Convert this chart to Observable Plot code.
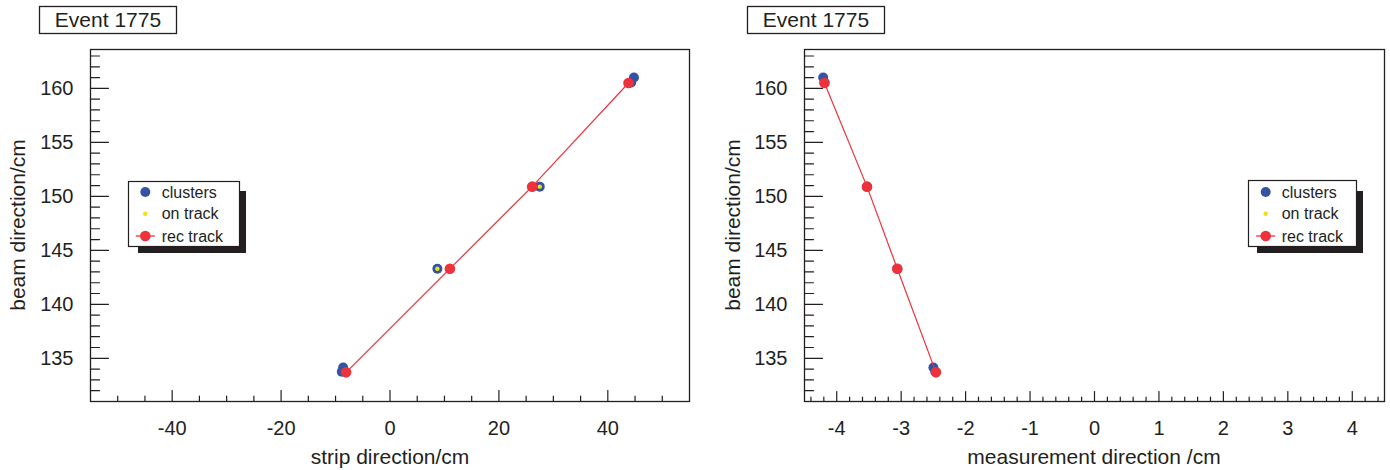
<!DOCTYPE html>
<html><head><meta charset="utf-8">
<script src="https://cdn.jsdelivr.net/npm/d3@7"></script>
<script src="https://cdn.jsdelivr.net/npm/@observablehq/plot@0.6"></script>
<style>
body{margin:0;background:#fff;}
#wrap{position:relative;width:1390px;height:470px;overflow:hidden;font-family:"Liberation Sans",Arial,sans-serif;}
#wrap > svg{position:absolute;top:0;}
</style></head><body><div id="wrap"></div>
<script>
// ---- data ----
const eventLabel = "Event 1775";
const clusterStrip = [44.8, 44.3, 27.5, 8.7, -8.6, -8.85];
const clusterMeas  = [-4.21, -4.19, -3.53, -3.06, -2.50, -2.47];
const clusterBeam  = [161.0, 160.55, 150.9, 143.3, 134.15, 133.75];
const onTrackStrip = [27.5, 8.7];
const onTrackMeas  = [-3.53, -3.06];
const onTrackBeam  = [150.9, 143.3];
const recStrip = [43.8, 26.1, 11.0, -8.07];
const recMeas  = [-4.19, -3.53, -3.06, -2.46];
const recBeam  = [160.5, 150.9, 143.3, 133.7];
const beamTicks  = [135, 140, 145, 150, 155, 160];
const stripTicks = [-40, -20, 0, 20, 40];
const measTicks  = [-4, -3, -2, -1, 0, 1, 2, 3, 4];
const legendLabels = ["clusters", "on track", "rec track"];
const stripTitle = "strip direction/cm";
const measTitle = "measurement direction /cm";
const beamTitle = "beam direction/cm";

// ---- styles ----
const ink = "#231f20";
const blue = "#3553a3";
const yellow = "#ece21c";
const red = "#ec323b";
const font = "'Liberation Sans', Arial, Helvetica, sans-serif";

const beamMinor = d3.range(132, 164, 1).filter(v => !beamTicks.includes(v));
const stripMinor = d3.range(-50, 51, 5).filter(v => !stripTicks.includes(v));
const measMinor = d3.range(-44, 45, 2).map(v => v / 10).filter(v => !measTicks.includes(v));

const tickShape = {draw(ctx, l) { ctx.moveTo(0, 0); ctx.lineTo(0, -l); }};
const hyphenFormat = d => String(d);

const zip = (xs, ys) => xs.map((x, i) => ({x, y: ys[i]}));

function panel({xDomain, xTicks, xMinor, xs, onXs, recXs, marginLeft, xMajorLen, xMinorLen}) {
  const clusters = zip(xs, clusterBeam);
  const onTrack = zip(onXs, onTrackBeam);
  const rec = zip(recXs, recBeam);
  return Plot.plot({
    width: 695, height: 470,
    marginLeft, marginRight: 6, marginTop: 49, marginBottom: 69,
    x: {domain: xDomain},
    y: {domain: [131, 163.6]},
    style: {fontFamily: font, color: ink, background: "transparent"},
    marks: [
      Plot.axisY(beamTicks, {anchor: "left", tickSize: 0, tickPadding: 17, fontSize: 20, label: null, tickFormat: hyphenFormat}),
      Plot.axisX(xTicks, {anchor: "bottom", tickSize: 0, tickPadding: 19, fontSize: 20, label: null, tickFormat: hyphenFormat}),
      Plot.vector(beamTicks, {y: d => d, frameAnchor: "left", rotate: 90, length: 18, anchor: "start", shape: tickShape, stroke: ink, strokeWidth: 1.2}),
      Plot.vector(beamMinor, {y: d => d, frameAnchor: "left", rotate: 90, length: 9, anchor: "start", shape: tickShape, stroke: ink, strokeWidth: 1.2}),
      Plot.vector(xTicks, {x: d => d, frameAnchor: "bottom", rotate: 0, length: xMajorLen, anchor: "start", shape: tickShape, stroke: ink, strokeWidth: 1.2}),
      Plot.vector(xMinor, {x: d => d, frameAnchor: "bottom", rotate: 0, length: xMinorLen, anchor: "start", shape: tickShape, stroke: ink, strokeWidth: 1.2}),
      Plot.frame({stroke: ink, strokeWidth: 1.3}),
      Plot.dot(clusters, {x: "x", y: "y", r: 5, fill: blue}),
      Plot.dot(onTrack, {x: "x", y: "y", r: 2.2, fill: yellow}),
      Plot.line(rec, {x: "x", y: "y", stroke: red, strokeWidth: 1.2}),
      Plot.dot(rec, {x: "x", y: "y", r: 5.3, fill: red})
    ]
  });
}

const wrap = document.getElementById("wrap");
const left = panel({xDomain: [-55, 55], xTicks: stripTicks, xMinor: stripMinor, xs: clusterStrip, onXs: onTrackStrip, recXs: recStrip, marginLeft: 90, xMajorLen: 11, xMinorLen: 5.5});
left.style.left = "0px";
wrap.appendChild(left);
const right = panel({xDomain: [-4.5, 4.5], xTicks: measTicks, xMinor: measMinor, xs: clusterMeas, onXs: onTrackMeas, recXs: recMeas, marginLeft: 109, xMajorLen: 10, xMinorLen: 4.5});
right.style.left = "695px";
wrap.appendChild(right);

// ---- overlay: event boxes, axis titles, legends ----
const ov = d3.select(wrap).append("svg")
  .attr("width", 1390).attr("height", 470)
  .style("left", "0px").style("pointer-events", "none")
  .style("font-family", font).style("fill", ink);

function eventBox(x0) {
  ov.append("rect").attr("x", x0 + 0.5).attr("y", 6.5).attr("width", 137).attr("height", 27)
    .attr("fill", "#fff").attr("stroke", ink).attr("stroke-width", 1.3);
  ov.append("text").attr("x", x0 + 69).attr("y", 26.5).attr("text-anchor", "middle")
    .attr("font-size", 21).text(eventLabel);
}
eventBox(39);
eventBox(747);

function yTitle(x) {
  ov.append("text").attr("transform", `translate(${x},225) rotate(-90)`)
    .attr("text-anchor", "middle").attr("font-size", 21).text(beamTitle);
}
yTitle(25);
yTitle(740);
ov.append("text").attr("x", 390).attr("y", 464).attr("text-anchor", "middle").attr("font-size", 21).text(stripTitle);
ov.append("text").attr("x", 1094).attr("y", 464).attr("text-anchor", "middle").attr("font-size", 21).text(measTitle);

function legend(bx, by, bw, bh, sx, sy, sw, sh, symX, textX) {
  ov.append("rect").attr("x", sx).attr("y", sy).attr("width", sw).attr("height", sh).attr("fill", ink);
  ov.append("rect").attr("x", bx).attr("y", by).attr("width", bw).attr("height", bh)
    .attr("fill", "#fff").attr("stroke", ink).attr("stroke-width", 1.2);
  const rows = [192, 213.7, 236];
  ov.append("circle").attr("cx", symX).attr("cy", rows[0]).attr("r", 5).attr("fill", blue);
  ov.append("circle").attr("cx", symX).attr("cy", rows[1]).attr("r", 2.3).attr("fill", yellow);
  ov.append("line").attr("x1", symX - 9.5).attr("x2", symX + 9.5).attr("y1", rows[2]).attr("y2", rows[2])
    .attr("stroke", red).attr("stroke-width", 1.3);
  ov.append("circle").attr("cx", symX).attr("cy", rows[2]).attr("r", 5.3).attr("fill", red);
  legendLabels.forEach((t, i) => {
    ov.append("text").attr("x", textX).attr("y", rows[i]).attr("dy", "0.35em")
      .attr("font-size", 16).text(t);
  });
}
legend(128.5, 181.5, 111, 65, 138, 191, 108, 62, 145.3, 161.7);
legend(1248.5, 180.5, 108, 66, 1257, 191, 106, 62, 1265.7, 1281.7);
</script>
</body></html>
